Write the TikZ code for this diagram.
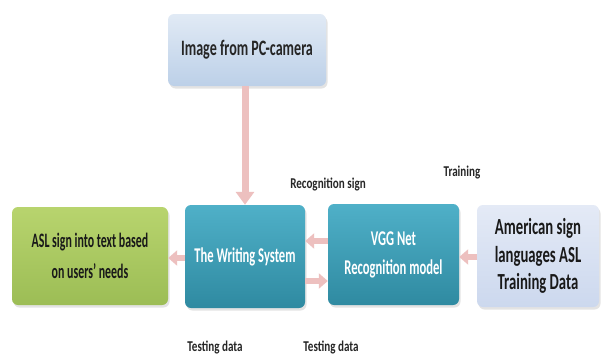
\documentclass[tikz,border=0pt]{standalone}
\usepackage{fontspec}
\setmainfont{Carlito}
\newfontfamily\cond[FakeStretch=0.6]{Carlito}
\newfontfamily\condg[FakeStretch=0.58]{Carlito}
\newfontfamily\condt[FakeStretch=0.64]{Carlito}
\newfontfamily\condw[FakeStretch=0.64]{Carlito}
\newfontfamily\condl[FakeStretch=0.74]{Carlito}
\usetikzlibrary{arrows.meta,shadows}
\definecolor{topA}{HTML}{E1EAF5}
\definecolor{topB}{HTML}{BCD0E8}
\definecolor{grnA}{HTML}{B8D46E}
\definecolor{grnB}{HTML}{9CBD55}
\definecolor{tealA}{HTML}{4FB0C8}
\definecolor{tealB}{HTML}{2F8AA1}
\definecolor{rgtA}{HTML}{E4EAF6}
\definecolor{rgtB}{HTML}{CCD8EE}
\definecolor{arrpink}{HTML}{EDC0BF}
\tikzset{
  box/.style={rounded corners=6pt, align=center, inner sep=2pt,
    font=\cond\bfseries\fontsize{21}{29}\selectfont,
    drop shadow={opacity=0.22, shadow xshift=1.5pt, shadow yshift=-2.5pt}},
  lbl/.style={font=\condl\bfseries\fontsize{15}{18}\selectfont, text=black!85},
  arr/.style={draw=arrpink, line width=6pt, -{Triangle[length=9pt,width=15pt]}},
  bigarr/.style={draw=arrpink, line width=7pt, -{Triangle[length=13pt,width=18pt]}}
}
\begin{document}
\begin{tikzpicture}[x=1pt,y=-1pt]
\useasboundingbox (0,0) rectangle (601,356);
\fill[white] (0,0) rectangle (601,356);
\node[box, top color=topA, bottom color=topB, minimum width=158pt, minimum height=72pt, text=black!85, font=\condt\bfseries\fontsize{22}{29}\selectfont] (cam) at (247,50) {Image from PC-camera};
\node[box, top color=grnA, bottom color=grnB, minimum width=156pt, minimum height=98pt, text=black!90, font=\condg\bfseries\fontsize{20.5}{31}\selectfont] (asl) at (90,256) {ASL sign into text based\\on users’ needs};
\node[box, top color=tealA, bottom color=tealB, minimum width=120pt, minimum height=103pt, text=white] (ws) at (245,256.5) {The Writing System};
\node[box, top color=tealA, bottom color=tealB, minimum width=131pt, minimum height=101pt, text=white] (vgg) at (393.5,254.5) {VGG Net\\Recognition model};
\node[box, top color=rgtA, bottom color=rgtB, minimum width=122pt, minimum height=102pt, text=black!90, font=\condw\bfseries\fontsize{23}{27.5}\selectfont] (data) at (538,256) {American sign\\languages ASL\\Training Data};
\draw[bigarr] (ws.north |- cam.south) -- (ws.north);
\draw[arr] (ws.west |- 0,258) -- (asl.east |- 0,258);
\draw[arr] (vgg.west |- 0,241) -- (ws.east |- 0,241);
\draw[arr] (ws.east |- 0,281) -- (vgg.west |- 0,281);
\draw[arr] (data.west |- 0,257) -- (vgg.east |- 0,257);
\node[lbl] (lrec) at (328,184) {Recognition sign};
\node[lbl] (ltrain) at (462,173) {Training};
\node[lbl] (ltest1) at (215,347) {Testing data};
\node[lbl] (ltest2) at (331,347) {Testing data};
\end{tikzpicture}
\end{document}
